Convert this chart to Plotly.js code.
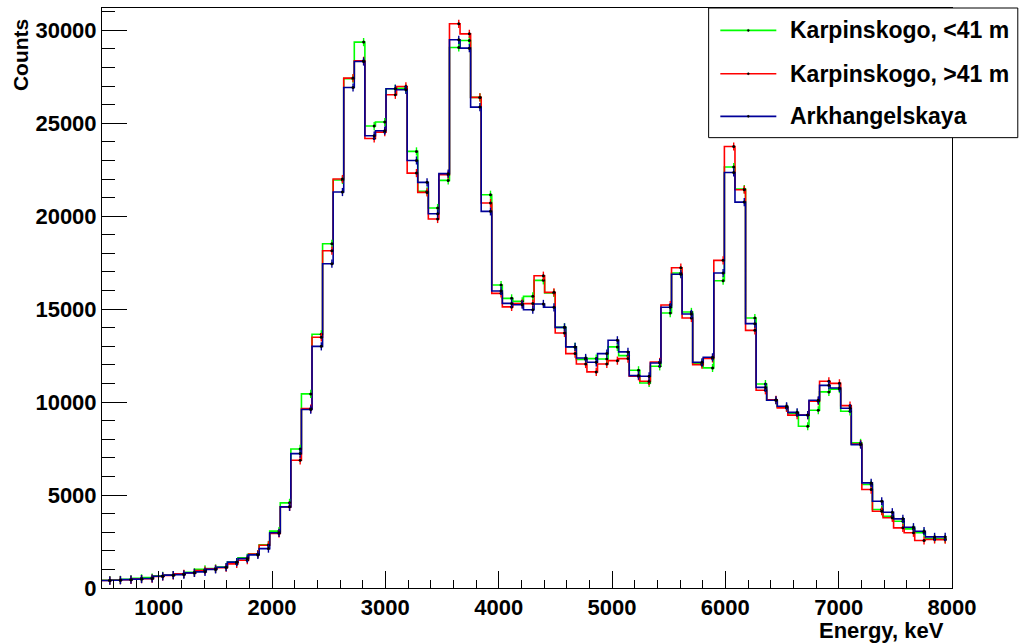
<!DOCTYPE html>
<html>
<head>
<meta charset="utf-8">
<script src="https://cdn.plot.ly/plotly-3.0.1.min.js"></script>
<style>html,body{margin:0;padding:0;background:#fff;}#chart{width:1019px;height:644px;}</style>
</head>
<body>
<div id="chart"></div>
<script>
// Histogram binning (keV)
const binStart = 487;
const binWidth = 93.3;

// Counts per bin
const karpinskogoBelow41 = [420,440,470,520,560,660,700,740,850,1000,1050,1130,1400,1620,1830,2320,3060,4580,7480,10440,
  13650,18520,21950,27400,29365,24850,25065,26855,26880,23485,21340,20440,21925,29075,29450,26390,21155,16300,15580,15420,
  15690,16550,15870,14020,12970,12300,12340,12320,12970,12500,11710,11030,11925,14790,16945,14850,12080,11840,16530,22645,
  21460,14525,10970,10100,9720,9400,8700,9560,10550,10700,9505,7805,5565,4220,3860,3590,3180,2970,2660,2640];
const karpinskogoAbove41 = [400,420,440,480,500,620,680,760,810,940,1030,1090,1300,1495,1820,2300,2930,4365,6870,9650,
  13485,18145,22000,27430,28360,24180,24525,26530,26980,22320,21280,19850,22230,30350,29810,26390,20710,15850,15120,15300,
  15300,16800,15905,13720,12610,12050,11625,12050,12230,12340,11390,11120,12160,15220,17230,14525,12015,12350,17625,23750,
  21425,13860,10635,10120,9690,9300,9300,10045,11120,11010,9810,7740,5295,4130,3775,3235,2970,2555,2610,2600];
const arkhangelskaya = [400,420,450,480,510,630,690,720,815,870,1000,1120,1390,1580,1780,2120,2970,4365,7230,9600,
  13000,17445,21300,26925,28320,24330,24600,26855,26800,23000,21820,20135,22290,29490,29040,25870,20260,15980,15310,15240,
  14970,15280,15100,14020,12970,12375,12140,12610,13325,12700,11425,11390,12105,15100,16880,14740,12140,12410,16945,22355,
  20760,14220,10790,10100,9775,9450,9300,10100,10900,10760,9670,7715,5655,4665,4075,3720,3270,3055,2750,2750];

const seriesNames = ["Karpinskogo, <41 m", "Karpinskogo, >41 m", "Arkhangelskaya"];
const seriesColors = ["#00ff00", "#ff0000", "#000099"];
const seriesData = [karpinskogoBelow41, karpinskogoAbove41, arkhangelskaya];

const xTitle = "Energy, keV";
const yTitle = "Counts";

function stepTrace(vals, color) {
  const x = [];
  for (let i = 0; i <= vals.length; i++) x.push(binStart + i * binWidth);
  const y = vals.concat([vals[vals.length - 1]]);
  return {type: 'scatter', mode: 'lines', x: x, y: y, showlegend: false, hoverinfo: 'skip',
    line: {color: color, width: 1.6, shape: 'hv'}};
}
function markerTrace(vals, color) {
  const x = vals.map((_, i) => binStart + (i + 0.88) * binWidth);
  return {type: 'scatter', mode: 'markers', x: x, y: vals, showlegend: false, hoverinfo: 'skip',
    marker: {color: 'black', size: 3},
    error_y: {type: 'constant', value: 220, color: color, thickness: 1.4, width: 0}};
}

const traces = [];
seriesData.forEach((d, i) => traces.push(stepTrace(d, seriesColors[i])));
seriesData.forEach((d, i) => traces.push(markerTrace(d, seriesColors[i])));

const FONT = 'Liberation Sans, Arial, sans-serif';
const L = 101.6, R = 951.7, T = 8.3, B = 588.5;
const px2x = p => (p - L) / (R - L);
const py2y = p => (B - p) / (B - T);

const shapes = [{type: 'rect', xref: 'paper', yref: 'paper', x0: px2x(708.3), x1: px2x(1017.5), y0: py2y(138), y1: py2y(T),
  line: {color: 'black', width: 1}, fillcolor: 'white', layer: 'above'}];
const annotations = [];
const legendY = [30.7, 74, 116.7];
seriesNames.forEach((n, i) => {
  shapes.push({type: 'line', xref: 'paper', yref: 'paper', x0: px2x(720), x1: px2x(776), y0: py2y(legendY[i]), y1: py2y(legendY[i]),
    line: {color: seriesColors[i], width: 1.6}, layer: 'above'});
  shapes.push({type: 'circle', xref: 'paper', yref: 'paper', x0: px2x(747), x1: px2x(749), y0: py2y(legendY[i] + 1), y1: py2y(legendY[i] - 1),
    line: {color: 'black', width: 0.5}, fillcolor: 'black', layer: 'above'});
  annotations.push({xref: 'paper', yref: 'paper', x: px2x(788), y: py2y(legendY[i]), xanchor: 'left', yanchor: 'middle',
    text: n, showarrow: false, font: {family: FONT, size: 23, color: 'black', weight: 'bold'}});
});
annotations.push({xref: 'paper', yref: 'paper', x: px2x(946), y: py2y(631), xanchor: 'right', yanchor: 'middle',
  text: xTitle, showarrow: false, font: {family: FONT, size: 22, color: 'black', weight: 'bold'}});
annotations.push({xref: 'paper', yref: 'paper', x: px2x(20), y: py2y(17), xanchor: 'center', yanchor: 'top', textangle: -90,
  text: yTitle, showarrow: false, font: {family: FONT, size: 21, color: 'black', weight: 'bold'}});

const layout = {
  width: 1019, height: 644,
  margin: {l: L, r: 1019 - R, t: T, b: 644 - B, pad: 0},
  paper_bgcolor: 'white', plot_bgcolor: 'white',
  showlegend: false,
  xaxis: {range: [500, 8000], showline: true, mirror: true, linecolor: 'black', linewidth: 1,
    ticks: 'inside', ticklen: 17, tickcolor: 'black', tick0: 0, dtick: 1000, showgrid: false, zeroline: false,
    tickformat: 'd',
    minor: {ticks: 'inside', ticklen: 8, dtick: 200, tick0: 0, tickcolor: 'black', showgrid: false},
    tickfont: {family: FONT, size: 22, color: 'black', weight: 'bold'}},
  yaxis: {range: [0, 31200], showline: true, mirror: true, linecolor: 'black', linewidth: 1,
    ticks: 'inside', ticklen: 25, tickcolor: 'black', tick0: 0, dtick: 5000, showgrid: false, zeroline: false,
    tickformat: 'd',
    minor: {ticks: 'inside', ticklen: 13, dtick: 1000, tick0: 0, tickcolor: 'black', showgrid: false},
    tickfont: {family: FONT, size: 22, color: 'black', weight: 'bold'}},
  shapes: shapes,
  annotations: annotations
};

Plotly.newPlot('chart', traces, layout, {staticPlot: true, displayModeBar: false});
</script>
</body>
</html>
